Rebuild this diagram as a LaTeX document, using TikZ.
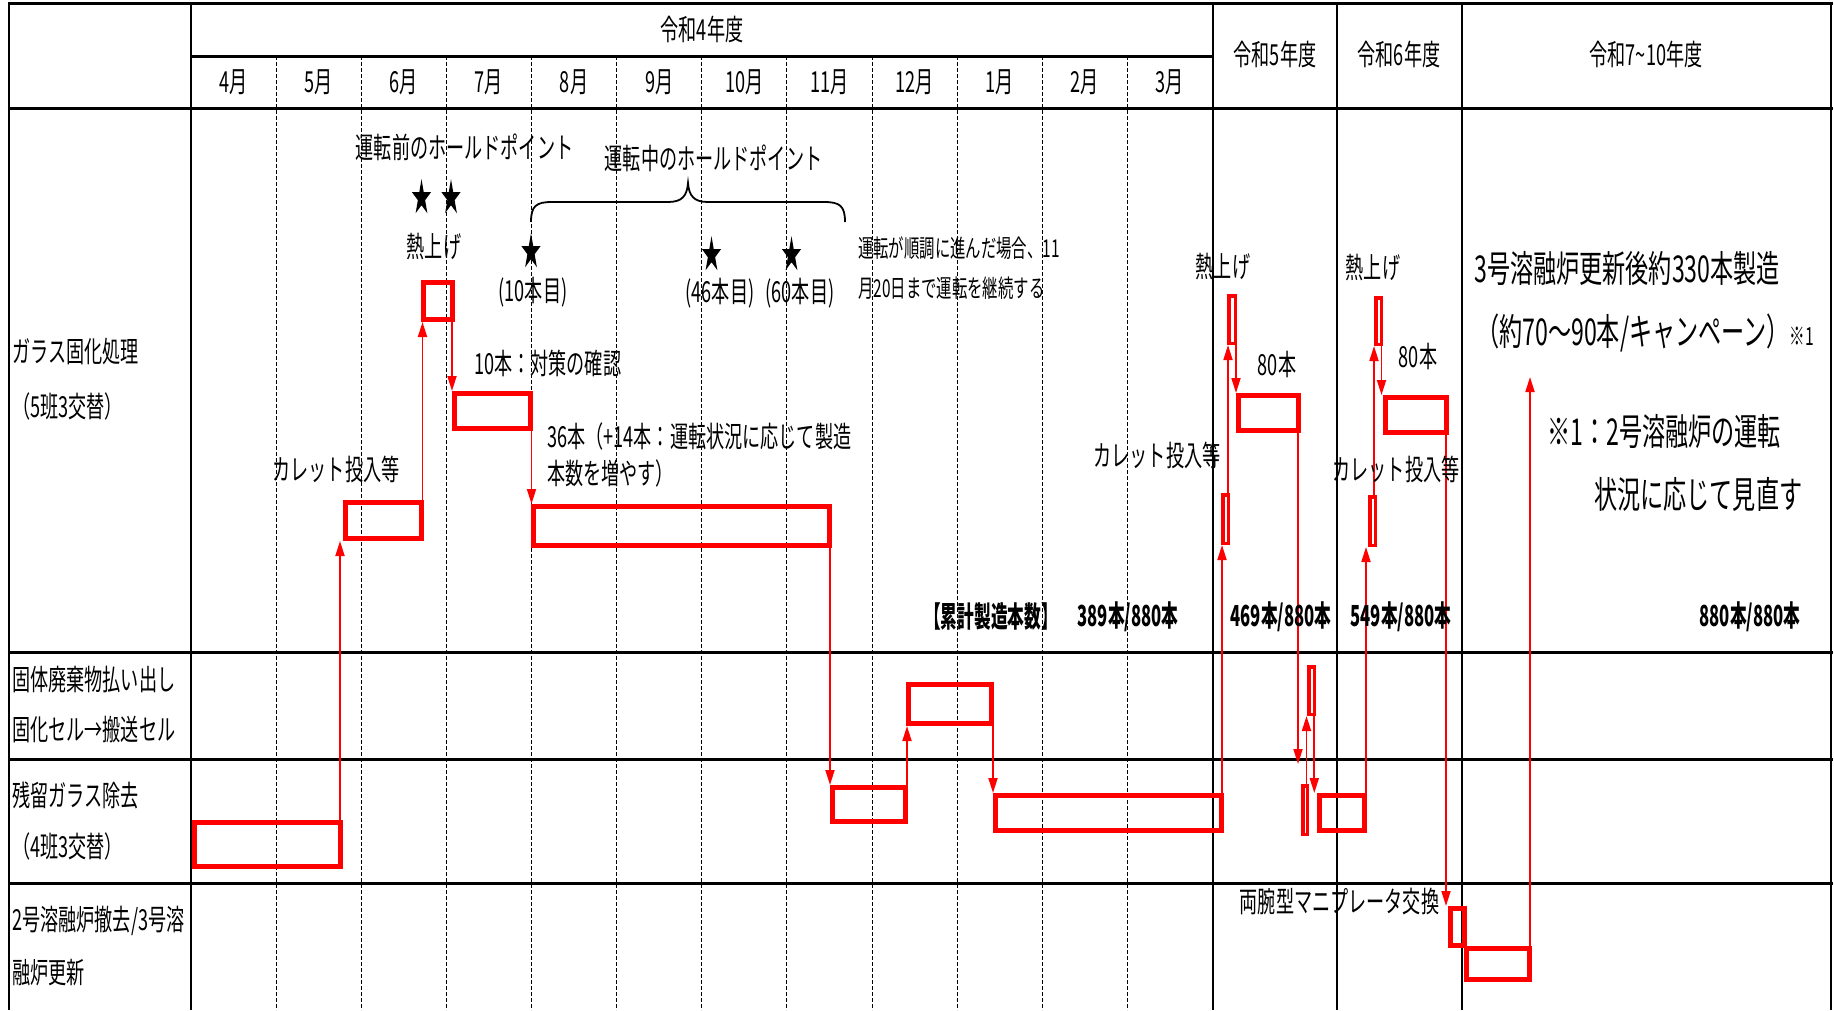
\documentclass[tikz,border=0pt]{standalone}
\usepackage{fontspec}
\usetikzlibrary{arrows.meta}
\newfontfamily\jp[FakeStretch=0.625]{Noto Sans CJK JP}
\newfontfamily\jpb[FakeStretch=0.575]{Noto Sans CJK JP}
\newcommand{\hstarat}[2]{\begin{scope}[shift={(#1,#2)},xscale=10,yscale=18.8]
\fill[black] (270:1)--(306:0.382)--(342:1)--(18:0.382)--(54:1)--(90:0.382)--(126:1)--(162:0.382)--(198:1)--(234:0.382)--cycle;
\end{scope}}
\begin{document}
\begin{tikzpicture}[x=1pt,y=-1pt,
  vgrid/.style={black,line width=2pt},
  hgrid/.style={black,line width=3pt},
  mline/.style={black,line width=1pt,dash pattern=on 4pt off 2pt},
  rbox/.style={draw=red,line width=5pt,inner sep=0pt},
  nbox/.style={draw=red,line width=3.5pt,inner sep=0pt},
  arr/.style={red,line width=1.8pt,-{Triangle[length=15pt,width=9pt]}},
  t27/.style={inner sep=0pt,font=\jp\fontsize{29}{34}\selectfont},
  t23/.style={inner sep=0pt,font=\jp\fontsize{24.6}{29}\selectfont},
  t34/.style={inner sep=0pt,font=\jp\fontsize{37}{43}\selectfont},
  b27/.style={inner sep=0pt,font=\jpb\bfseries\fontsize{29}{34}\selectfont}]
\useasboundingbox (0,0) rectangle (1834,1010);
% ---- grid ----
\foreach \k in {1,...,11}
  \draw[mline] ({191+85.125*\k},56) -- ({191+85.125*\k},1010);
\foreach \xx in {9,191,1212.5,1337,1461.5,1831}
  \draw[vgrid] (\xx,3.5) -- (\xx,1010);
\draw[hgrid] (7.5,3.5) -- (1832.5,3.5);
\draw[hgrid] (191,56) -- (1212.5,56);
\foreach \yy in {108.5,652,759,883}
  \draw[hgrid] (7.5,\yy) -- (1832.5,\yy);
% ---- header ----
\node[t27] (y4) at (702,29) {令和4年度};
\foreach \i/\t in {0/4月,1/5月,2/6月,3/7月,4/8月,5/9月,6/10月,7/11月,8/12月,9/1月,10/2月,11/3月}
  \node[t27] (m\i) at ({191+85.125*(\i+0.5)},82) {\t};
\node[t27] (y5) at (1275,54) {令和5年度};
\node[t27] (y6) at (1399,54) {令和6年度};
\node[t27] (y7) at (1646,54) {令和7\textasciitilde 10年度};
% ---- row labels ----
\node[t27,anchor=west] (l1a) at (12,352) {ガラス固化処理};
\node[t27,anchor=west] (l1b) at (12,406) {（5班3交替）};
\node[t27,anchor=west] (l2a) at (12,680) {固体廃棄物払い出し};
\node[t27,anchor=west] (l2b) at (12,730) {固化セル→搬送セル};
\node[t27,anchor=west] (l3a) at (12,795) {残留ガラス除去};
\node[t27,anchor=west] (l3b) at (12,846) {（4班3交替）};
\node[t27,anchor=west] (l4a) at (12,921) {2号溶融炉撤去/3号溶};
\node[t27,anchor=west] (l4b) at (12,973) {融炉更新};
% ---- red boxes ----
\node[rbox,minimum width=146pt,minimum height=44pt] (R1) at (267.5,844.5) {};
\node[rbox,minimum width=76pt,minimum height=36pt] (C) at (383.5,520.5) {};
\node[rbox,minimum width=29pt,minimum height=37pt] (A) at (438,301) {};
\node[rbox,minimum width=76pt,minimum height=35pt] (B) at (492.5,411) {};
\node[rbox,minimum width=296pt,minimum height=39pt] (D) at (681.5,526) {};
\node[rbox,minimum width=73pt,minimum height=34pt] (E) at (869,804.5) {};
\node[rbox,minimum width=83pt,minimum height=39pt] (F) at (950,704) {};
\node[rbox,minimum width=226pt,minimum height=35pt] (G) at (1108.5,813) {};
\node[rbox,minimum width=60pt,minimum height=35pt] (J) at (1268.5,413) {};
\node[rbox,minimum width=45pt,minimum height=35pt] (M) at (1342,813) {};
\node[rbox,minimum width=61pt,minimum height=35pt] (P) at (1416,415) {};
\node[rbox,minimum width=14pt,minimum height=37pt] (Q) at (1457.5,927) {};
\node[rbox,minimum width=63pt,minimum height=31pt] (S) at (1498,964) {};
\node[nbox,minimum width=5.5pt,minimum height=48.5pt] (H) at (1225.5,519) {};
\node[nbox,minimum width=6.5pt,minimum height=47.5pt] (I) at (1232,319.5) {};
\node[nbox,minimum width=4.5pt,minimum height=48.5pt] (K) at (1305,810) {};
\node[nbox,minimum width=5.5pt,minimum height=47.5pt] (L) at (1311.5,690.5) {};
\node[nbox,minimum width=5.5pt,minimum height=48.5pt] (N) at (1372.5,521) {};
\node[nbox,minimum width=5.5pt,minimum height=46.5pt] (O) at (1378.5,321) {};
\coordinate (T7) at (1530,377);
% ---- arrows ----
\draw[arr] ([xshift=-3pt]R1.north east) -- ([xshift=-3pt]R1.north east |- C.south);
\draw[arr] ([xshift=-1.5pt]C.north east) -- ([xshift=-1.5pt]C.north east |- A.south);
\draw[arr] ([xshift=-3pt]A.south east) -- ([xshift=-3pt]A.south east |- B.north);
\draw[arr] ([xshift=-1.5pt]B.south east) -- ([xshift=-1.5pt]B.south east |- D.north);
\draw[arr] ([xshift=-2pt]D.south east) -- ([xshift=-2pt]D.south east |- E.north);
\draw[arr] ([xshift=-1pt]E.north east) -- ([xshift=-1pt]E.north east |- F.south);
\draw[arr] ([xshift=-1pt]F.south east) -- ([xshift=-1pt]F.south east |- G.north);
\draw[arr] ([xshift=-2pt]G.north east) -- ([xshift=-2pt]G.north east |- H.south);
\draw[arr] ([xshift=2.5pt]H.north) -- ([xshift=2.5pt]H.north |- I.south);
\draw[arr] ([xshift=-1pt]I.south east) -- ([xshift=-1pt]I.south east |- J.north);
\draw[arr] ([xshift=-3pt]J.south east) -- ([xshift=-3pt,yshift=20pt]J.south east |- K.north);
\draw[arr] ([xshift=1.5pt]K.north) -- ([xshift=1.5pt]K.north |- L.south);
\draw[arr] ([xshift=2.8pt]L.south) -- ([xshift=2.8pt]L.south |- M.north);
\draw[arr] ([xshift=-1pt]M.north east) -- ([xshift=-1pt]M.north east |- N.south);
\draw[arr] ([xshift=1.5pt]N.north) -- ([xshift=1.5pt]N.north |- O.south);
\draw[arr] ([xshift=-1.5pt]O.south east) -- ([xshift=-1.5pt]O.south east |- P.north);
\draw[arr] ([xshift=-3pt]P.south east) -- ([xshift=-3pt]P.south east |- Q.north);
\draw[arr] ([xshift=-2pt]S.north east) -- ([xshift=-2pt]S.north east |- T7);
% ---- stars and brace ----
\hstarat{421.5}{198}
\hstarat{451}{198}
\hstarat{531}{252}
\hstarat{711.5}{255}
\hstarat{791.5}{255}
\draw[black,line width=1.8pt] (531,222) .. controls (531,206) and (536,202) .. (552,202) -- (668,202) .. controls (682,202) and (687,196) .. (688,183) .. controls (689,196) and (694,202) .. (708,202) -- (824,202) .. controls (840,202) and (845,206) .. (845,222);
% ---- texts in glass row ----
\node[t27] (hp1) at (464.5,147) {運転前のホールドポイント};
\node[t27] (hp2) at (713.5,158) {運転中のホールドポイント};
\node[t27] (ne1) at (434,246) {熱上げ};
\node[t27] (ne2) at (1223,266) {熱上げ};
\node[t27] (ne3) at (1373,267) {熱上げ};
\node[t27] (n10) at (533,292) {(10本目)};
\node[t27] (n46) at (720,293) {(46本目)};
\node[t27] (n60) at (800,293) {(60本目)};
\node[t23,anchor=west] (cont1) at (858,248) {運転が順調に進んだ場合、11};
\node[t23,anchor=west] (cont2) at (858,288) {月20日まで運転を継続する};
\node[t27,anchor=west] (tx10) at (474,363) {10本：対策の確認};
\node[t27,anchor=west] (tx36a) at (547,436) {36本（+14本：運転状況に応じて製造};
\node[t27,anchor=west] (tx36b) at (547,473) {本数を増やす）};
\node[t27] (cu1) at (336,469) {カレット投入等};
\node[t27] (cu2) at (1157,455) {カレット投入等};
\node[t27] (cu3) at (1396,469) {カレット投入等};
\node[t27] (e80a) at (1277,364) {80本};
\node[t27] (e80b) at (1418,356) {80本};
\node[t34,anchor=west] (r7a) at (1474,268) {3号溶融炉更新後約330本製造};
\node[t34,anchor=west] (r7b) at (1476,333) {（約70～90本/キャンペーン）\fontsize{25}{30}\selectfont ※1};
\node[t34,anchor=west] (nt1) at (1547,431) {※1：2号溶融炉の運転};
\node[t34,anchor=west] (nt2) at (1594,494) {状況に応じて見直す};
\node[b27] (cum) at (991,617) {【累計製造本数】};
\node[b27] (c389) at (1128,617) {389本/880本};
\node[b27] (c469) at (1281,617) {469本/880本};
\node[b27] (c549) at (1401,617) {549本/880本};
\node[b27] (c880) at (1750,617) {880本/880本};
\node[t27] (mani) at (1339.5,902) {両腕型マニプレータ交換};
\end{tikzpicture}
\end{document}
